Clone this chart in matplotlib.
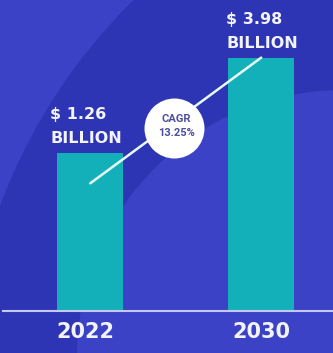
import matplotlib.pyplot as plt
from matplotlib.patches import Circle

# DATA
years = ["2022", "2030"]
market_size = [1.26, 3.98]  # USD billion
value_labels = ["$ 1.26", "$ 3.98"]
unit_label = "BILLION"
cagr_title = "CAGR"
cagr_value = "13.25%"
trend_start = 0.38  # where the CAGR line leaves the 2022 bar
cagr_pos = (0.49, 1.96)

# STYLE
BG_LIGHT = "#3b42c6"
BG_DARK = "#2d35b4"
BAR = "#14b0b9"
TEXT = "#f2f3fb"
FLOOR = -3.28  # bars grow from here, the axis is not zero based

fig = plt.figure(figsize=(3.33, 3.53), dpi=100)
fig.patch.set_facecolor(BG_LIGHT)

# background swoosh, drawn in pixel units
bg = fig.add_axes([0, 0, 1, 1])
bg.set_xlim(0, 333)
bg.set_ylim(353, 0)
bg.axis("off")
bg.add_patch(Circle((526, 401), 561, color=BG_DARK, lw=0))
bg.add_patch(Circle((343, 356), 266, color=BG_LIGHT, lw=0))

ax = fig.add_axes([0, 0, 1, 1])
ax.patch.set_alpha(0)
ax.axis("off")
ax.set_xlim(-0.528, 1.42)
ax.set_ylim(-4.48, 5.63)

x = list(range(len(years)))
ax.bar(x, [v - FLOOR for v in market_size], bottom=FLOOR, width=0.386,
       color=BAR, zorder=2)
ax.axhline(FLOOR, xmin=3 / 333, color="#c3c9f2", lw=1.5, zorder=3)

label_dx = [-40, -35]
year_dx = [-5, 0]
for i, v in enumerate(market_size):
    ax.annotate(value_labels[i], (i, v), xytext=(label_dx[i], 34),
                textcoords="offset pixels", ha="left", va="baseline",
                color=TEXT, fontsize=11.5, fontweight="bold")
    ax.annotate(unit_label, (i, v), xytext=(label_dx[i], 10),
                textcoords="offset pixels", ha="left", va="baseline",
                color=TEXT, fontsize=11.5, fontweight="bold")
    ax.annotate(years[i], (i, FLOOR), xytext=(year_dx[i], -27),
                textcoords="offset pixels", ha="center", va="baseline",
                color=TEXT, fontsize=15, fontweight="bold")

# growth line + CAGR badge
ax.plot([0, 1], [trend_start, market_size[1]], color="#e8fafa", lw=1.8,
        solid_capstyle="round", zorder=4)
ax.scatter([cagr_pos[0]], [cagr_pos[1]], s=1866, color="white", zorder=5,
           linewidths=0)
ax.annotate(cagr_title, cagr_pos, xytext=(2.5, 6.3), textcoords="offset pixels",
            ha="center", va="baseline", color="#4b4f9e", fontsize=8,
            fontweight="bold", family="Roboto", zorder=6)
ax.annotate(cagr_value, cagr_pos, xytext=(2.5, -7.7), textcoords="offset pixels",
            ha="center", va="baseline", color="#4b4f9e", fontsize=8,
            fontweight="bold", family="Roboto", zorder=6)

fig.savefig("out.png", dpi=100, facecolor=fig.get_facecolor())
